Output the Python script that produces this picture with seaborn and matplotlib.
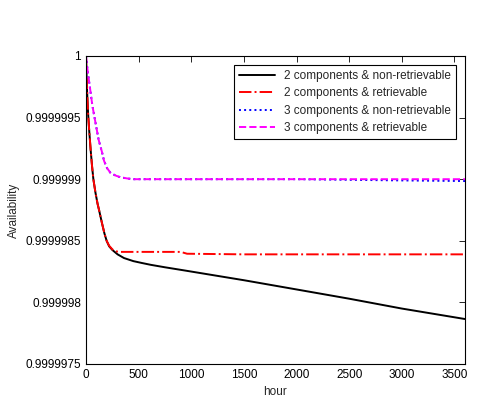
import matplotlib
matplotlib.use("Agg")
import matplotlib.pyplot as plt
import seaborn as sns
import pandas as pd
from matplotlib.ticker import FixedLocator, FuncFormatter

sns.set_style("white")
plt.rcParams['font.family'] = ['Liberation Sans', 'DejaVu Sans']

# hours and availability values
hours_2nr = [0, 5, 10, 20, 30, 44, 57, 70, 90, 110, 124, 150, 175, 196, 220, 251, 300, 361, 450, 530,
             615, 750, 931, 1500, 2034, 2500, 3000, 3600]
avail_2nr = [1.0, 0.99999985, 0.99999972, 0.99999953, 0.99999940, 0.99999924, 0.99999911, 0.99999900,
             0.99999889, 0.99999880, 0.99999875, 0.99999865, 0.99999856, 0.99999850, 0.999998455,
             0.999998425, 0.99999839, 0.99999836, 0.999998335, 0.99999832, 0.999998305, 0.999998285,
             0.99999826, 0.99999818, 0.99999810, 0.99999803, 0.99999795, 0.999997865]

hours_2r = [0, 5, 10, 20, 30, 44, 57, 70, 90, 110, 124, 150, 175, 196, 220, 251, 280, 320, 600, 900,
            960, 1500, 2000, 2500, 3000, 3600]
avail_2r = [1.0, 0.99999985, 0.99999972, 0.99999953, 0.99999940, 0.99999924, 0.99999911, 0.99999900,
            0.99999889, 0.99999880, 0.99999875, 0.99999865, 0.99999856, 0.99999850, 0.99999846,
            0.99999843, 0.999998415, 0.99999841, 0.99999841, 0.99999841, 0.999998395, 0.99999839,
            0.99999839, 0.99999839, 0.99999839, 0.99999839]

hours_3nr = [0, 10, 20, 38, 60, 92, 120, 152, 171, 200, 234, 280, 329, 400, 456, 700,
             1000, 1500, 2000, 2500, 3000, 3600]
avail_3nr = [1.0, 0.99999992, 0.99999985, 0.99999974, 0.99999960, 0.99999945, 0.99999932, 0.99999922,
             0.99999915, 0.99999909, 0.99999905, 0.99999903, 0.999999015, 0.999999005, 0.99999900,
             0.99999900, 0.99999900, 0.99999900, 0.99999900, 0.999998995, 0.99999899, 0.999998985]

hours_3r = [0, 10, 20, 38, 60, 92, 120, 152, 171, 200, 234, 280, 329, 400, 456, 700,
            1000, 1500, 2000, 2500, 3000, 3600]
avail_3r = [1.0, 0.99999992, 0.99999985, 0.99999974, 0.99999960, 0.99999945, 0.99999932, 0.99999922,
            0.99999915, 0.99999909, 0.99999905, 0.99999903, 0.999999015, 0.999999005, 0.99999900,
            0.99999900, 0.99999900, 0.99999900, 0.99999900, 0.99999900, 0.99999900, 0.99999900]

labels = ["2 components & non-retrievable", "2 components & retrievable",
          "3 components & non-retrievable", "3 components & retrievable"]
yticks = [0.9999975, 0.999998, 0.9999985, 0.999999, 0.9999995, 1.0]
xticks = [0, 500, 1000, 1500, 2000, 2500, 3000, 3500]

series = [(hours_2nr, avail_2nr), (hours_2r, avail_2r), (hours_3nr, avail_3nr), (hours_3r, avail_3r)]
styles = [dict(color="black", linestyle="-"),
          dict(color="#ff0000", linestyle="-."),
          dict(color="#0000ff", linestyle=":"),
          dict(color="#ff00ff", linestyle="--")]

fig = plt.figure(figsize=(4.84, 4.01), dpi=100)
ax = fig.add_axes([86/484, 1 - 364/401, (465 - 86)/484, (364 - 56)/401])

for (h, a), lab, st in zip(series, labels, styles):
    df = pd.DataFrame({"hour": h, "Availability": a})
    sns.lineplot(data=df, x="hour", y="Availability", ax=ax, label=lab, linewidth=1.4, **st)

ax.set_xlim(0, 3600)
ax.set_ylim(0.9999975, 1.0)
ax.xaxis.set_major_locator(FixedLocator(xticks))
ax.yaxis.set_major_locator(FixedLocator(yticks))
ax.yaxis.set_major_formatter(FuncFormatter(lambda v, p: "{:.7g}".format(v)))
ax.xaxis.set_major_formatter(FuncFormatter(lambda v, p: "{:g}".format(v)))
ax.tick_params(direction="in", top=True, right=True, length=4, width=0.6, labelsize=8.5, colors="black")
for s in ax.spines.values():
    s.set_visible(True)
    s.set_color("black")
    s.set_linewidth(0.8)
ax.set_xlabel("hour", fontsize=8.5)
ax.set_ylabel("Availability", fontsize=8.5)

leg = ax.legend(loc="upper right", fontsize=8.5, frameon=True, fancybox=False, edgecolor="black",
                framealpha=1, handlelength=3.0, borderaxespad=0.8, labelspacing=0.45)
leg.get_frame().set_linewidth(0.8)

fig.savefig("out.png", dpi=100)
